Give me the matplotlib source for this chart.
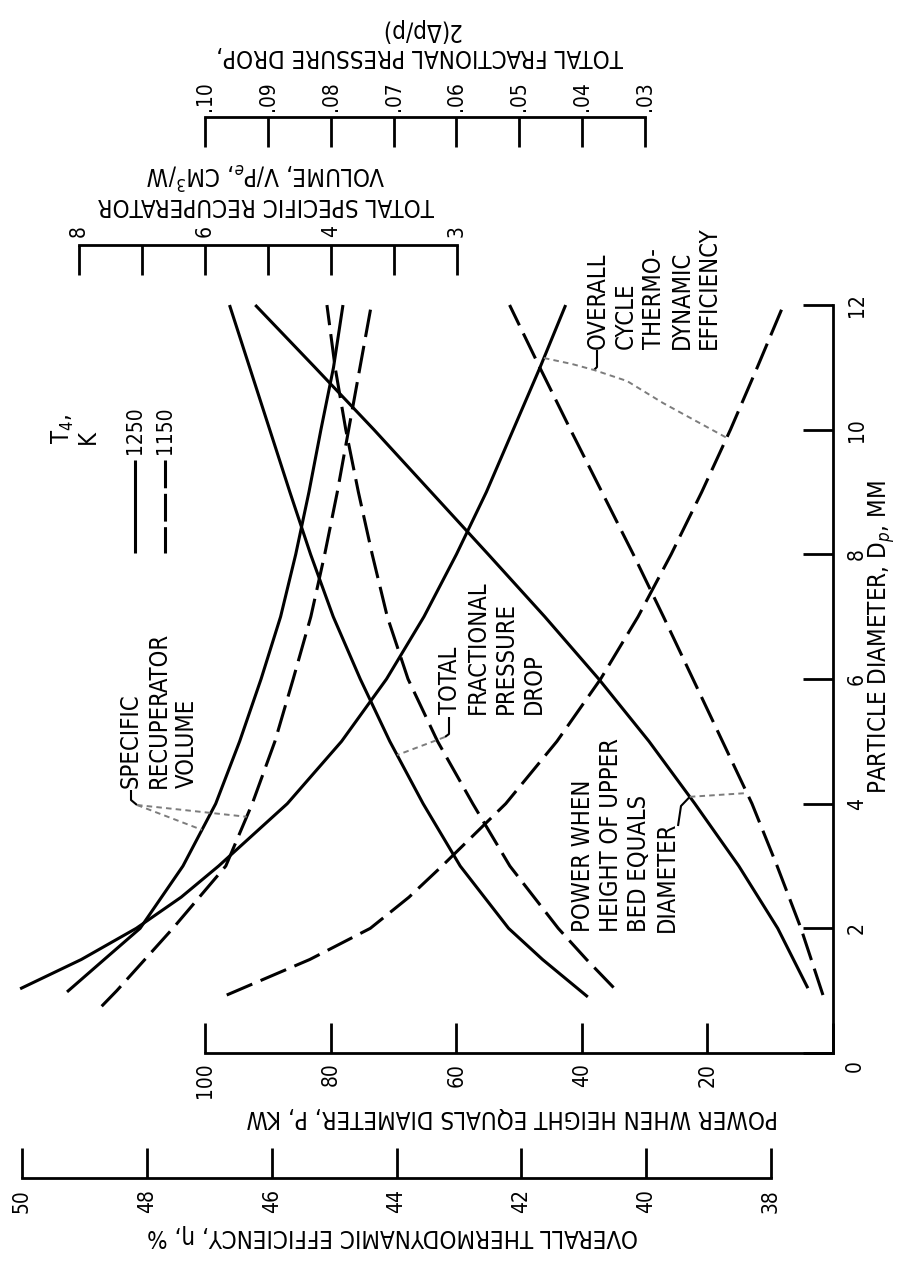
import numpy as np
import matplotlib
matplotlib.use("Agg")
import matplotlib.pyplot as plt
from matplotlib import font_manager
from matplotlib.ticker import FixedLocator, FixedFormatter

# ---------------- data ----------------
# particle diameter, mm  ->  power when height of upper bed equals diameter, kW
power_1250_d = [1.04, 2, 3, 4, 5, 6, 7, 8, 9, 10, 11, 12]
power_1250 = [4.0, 8.8, 15.0, 22.0, 29.3, 37.3, 45.9, 54.9, 64.0, 73.1, 82.5, 92.0]
power_1150_d = [0.93, 2, 3, 4, 5, 6, 7, 8, 9, 10, 11, 12]
power_1150 = [1.6, 5.1, 8.9, 12.9, 17.6, 22.3, 27.0, 31.8, 36.8, 41.8, 46.7, 51.5]

# overall thermodynamic efficiency, %
eff_1250_d = [1.03, 1.5, 2, 2.5, 3, 4, 5, 6, 7, 8, 9, 10, 11, 12]
eff_1250 = [50.03, 49.05, 48.17, 47.45, 46.85, 45.75, 44.88, 44.16, 43.56, 43.04, 42.56, 42.13, 41.70, 41.29]
eff_1150_d = [0.93, 1.5, 2, 2.5, 3, 4, 5, 6, 7, 8, 9, 10, 11, 12]
eff_1150 = [46.72, 45.39, 44.42, 43.80, 43.27, 42.25, 41.43, 40.73, 40.13, 39.60, 39.11, 38.65, 38.22, 37.80]

# total fractional pressure drop 2(dp/p)
dp_1250_d = [0.9, 1.5, 2, 3, 4, 5, 6, 7, 8, 9, 10, 11, 12]
dp_1250 = [0.0391, 0.0463, 0.0517, 0.0594, 0.0653, 0.0706, 0.0753, 0.0796, 0.0832, 0.0865, 0.0897, 0.0929, 0.0961]
dp_1150_d = [1.05, 1.5, 2, 3, 4, 5, 6, 7, 8, 9, 10, 11, 12]
dp_1150 = [0.0350, 0.0393, 0.0438, 0.0515, 0.0574, 0.0630, 0.0677, 0.0710, 0.0734, 0.0756, 0.0776, 0.0793, 0.0806]

# total specific recuperator volume V/Pe, cm^3/W
vol_1250_d = [0.98, 1.5, 2, 3, 4, 5, 6, 7, 8, 9, 10, 11, 12]
vol_1250 = [8.19, 7.60, 7.03, 6.35, 5.83, 5.45, 5.11, 4.80, 4.56, 4.35, 4.16, 3.98, 3.905]
vol_1150_d = [0.75, 1, 2, 3, 4, 5, 6, 7, 8, 9, 10, 11, 12]
vol_1150 = [7.64, 7.40, 6.51, 5.67, 5.25, 4.89, 4.60, 4.32, 4.10, 3.95, 3.86, 3.77, 3.68]

diam_ticks = [0, 2, 4, 6, 8, 10, 12]
diam_tick_labels = ["", "2", "4", "6", "8", "10", "12"]
power_ticks = [0, 20, 40, 60, 80, 100]
power_tick_labels = ["", "20", "40", "60", "80", "100"]
corner_label = "0"
eff_ticks = [38, 40, 42, 44, 46, 48, 50]
dp_ticks = [0.03, 0.04, 0.05, 0.06, 0.07, 0.08, 0.09, 0.10]
dp_tick_labels = [".03", ".04", ".05", ".06", ".07", ".08", ".09", ".10"]
vol_ticks = [3, 3.5, 4, 5, 6, 7, 8]
vol_tick_labels = ["3", "", "4", "", "6", "", "8"]
legend_labels = ["1250", "1150"]

# ---------------- fonts ----------------
names = {f.name for f in font_manager.fontManager.ttflist}
if "Liberation Sans Narrow" in names:
    FAM = ["Liberation Sans Narrow", "DejaVu Sans"]
    plt.rcParams["mathtext.fontset"] = "custom"
    plt.rcParams["mathtext.rm"] = "Liberation Sans Narrow"
    plt.rcParams["mathtext.it"] = "Liberation Sans Narrow:italic"
    plt.rcParams["mathtext.bf"] = "Liberation Sans Narrow:bold"
else:
    FAM = ["DejaVu Sans"]
    plt.rcParams["font.stretch"] = "condensed"
plt.rcParams["font.family"] = FAM
plt.rcParams["lines.scale_dashes"] = False

W, H = 908, 1262
fig = plt.figure(figsize=(W / 100, H / 100), dpi=100)
fig.patch.set_facecolor("white")

Y0, PX_PER_MM = 1053, 62.33   # pixel row of D=0 and scale of diameter axis


def rect(x0, x1, yt, yb):
    return [x0 / W, 1 - yb / H, (x1 - x0) / W, (yb - yt) / H]


def dlim(yt, yb):
    return ((Y0 - yb) / PX_PER_MM, (Y0 - yt) / PX_PER_MM)


LW_AX = 2.0
TL = 21.5
FS_T = 15
FS_L = 17.3
FS_C = 17
LW_C = 2.2
DASH = (20, 6.5)


def clean(ax):
    ax.set_facecolor("none")
    for s in ax.spines.values():
        s.set_visible(False)
        s.set_linewidth(LW_AX)


# power axes (also carries the particle diameter axis on its right side)
axP = fig.add_axes(rect(205, 833, 305, 1053))
clean(axP)
axP.set_xlim(100, 0)
axP.set_ylim(0, 12)
axP.spines["bottom"].set_visible(True)
axP.spines["right"].set_visible(True)
axP.xaxis.set_ticks_position("bottom")
axP.xaxis.set_major_locator(FixedLocator(power_ticks))
axP.xaxis.set_major_formatter(FixedFormatter(power_tick_labels))
axP.tick_params(axis="x", direction="in", length=TL, width=LW_AX, labelsize=FS_T,
                labelrotation=90, pad=7)
axP.yaxis.tick_right()
axP.yaxis.set_major_locator(FixedLocator(diam_ticks))
axP.yaxis.set_major_formatter(FixedFormatter(diam_tick_labels))
axP.tick_params(axis="y", direction="in", length=TL, width=LW_AX, labelsize=FS_T,
                labelrotation=90, pad=10)
for t in axP.yaxis.get_major_ticks():
    t.label2.set_verticalalignment("center")

# efficiency axes
axE = fig.add_axes(rect(22, 771, 305, 1178))
clean(axE)
axE.set_xlim(50, 38)
axE.set_ylim(*dlim(305, 1178))
axE.spines["bottom"].set_visible(True)
axE.set_xticks(eff_ticks)
axE.tick_params(axis="x", direction="in", length=TL, width=LW_AX, labelsize=FS_T,
                labelrotation=90, pad=8)
axE.yaxis.set_visible(False)

# pressure drop axes (top)
axDp = fig.add_axes(rect(205, 645, 117, 1053))
clean(axDp)
axDp.set_xlim(0.10, 0.03)
axDp.set_ylim(*dlim(117, 1053))
axDp.spines["top"].set_visible(True)
axDp.xaxis.set_ticks_position("top")
axDp.xaxis.set_major_locator(FixedLocator(dp_ticks))
axDp.xaxis.set_major_formatter(FixedFormatter(dp_tick_labels))
axDp.tick_params(axis="x", direction="in", length=TL, width=LW_AX, labelsize=FS_T,
                 labelrotation=90, pad=4)
axDp.yaxis.set_visible(False)

# specific volume axes (top, non-uniform graph scale)
VOL_KNOTS = [2, 3, 4, 6, 8, 10]
POS_KNOTS = [-1, 0, 1, 2, 3, 4]


def vfwd(v):
    return np.interp(np.asarray(v, dtype=float), VOL_KNOTS, POS_KNOTS)


def vinv(s):
    return np.interp(np.asarray(s, dtype=float), POS_KNOTS, VOL_KNOTS)


axV = fig.add_axes(rect(79, 457, 245, 1053))
clean(axV)
axV.set_xscale("function", functions=(vfwd, vinv))
axV.set_xlim(8, 3)
axV.set_ylim(*dlim(245, 1053))
axV.spines["top"].set_visible(True)
axV.xaxis.set_ticks_position("top")
axV.xaxis.set_major_locator(FixedLocator(vol_ticks))
axV.xaxis.set_major_formatter(FixedFormatter(vol_tick_labels))
axV.xaxis.set_minor_locator(FixedLocator([]))
axV.tick_params(axis="x", direction="in", length=TL, width=LW_AX, labelsize=FS_T,
                labelrotation=90, pad=6)
axV.yaxis.set_visible(False)

# ---------------- curves ----------------
kw = dict(color="black", lw=LW_C, clip_on=False, solid_capstyle="butt", dash_capstyle="butt")
axP.plot(power_1250, power_1250_d, **kw)
axP.plot(power_1150, power_1150_d, dashes=DASH, **kw)
axE.plot(eff_1250, eff_1250_d, **kw)
axE.plot(eff_1150, eff_1150_d, dashes=DASH, **kw)
axDp.plot(dp_1250, dp_1250_d, **kw)
axDp.plot(dp_1150, dp_1150_d, dashes=DASH, **kw)
axV.plot(vol_1250, vol_1250_d, **kw)
axV.plot(vol_1150, vol_1150_d, dashes=DASH, **kw)

# ---------------- overlay for text and leaders (pixel coordinates) ----------------
ov = fig.add_axes([0, 0, 1, 1], zorder=5)
ov.set_xlim(0, W)
ov.set_ylim(H, 0)
ov.axis("off")
ov.set_facecolor("none")


def on_curve(ax, xs, ds, d):
    v = np.interp(d, ds, xs)
    disp = ax.transData.transform((v, d))
    return ov.transData.inverted().transform(disp)


GRAY = "#7c7c7c"
lkw = dict(color=GRAY, lw=1.4, dashes=(4, 3))
hkw = dict(color="black", lw=1.5, solid_capstyle="butt")

# shared origin label at the corner of power and diameter axes
ov.text(855, 1066, corner_label, rotation=90, ha="center", va="center", fontsize=FS_T)

# axis titles
ov.text(393, 1236, "OVERALL THERMODYNAMIC EFFICIENCY, η, %", rotation=180,
        ha="center", va="center", fontsize=FS_L)
ov.text(512, 1117, "POWER WHEN HEIGHT EQUALS DIAMETER, P, KW", rotation=180,
        ha="center", va="center", fontsize=FS_L)
ov.text(882, 637, "PARTICLE DIAMETER, D$_p$, MM", rotation=90,
        ha="center", va="center", fontsize=FS_L)
ov.text(420, 43, "TOTAL FRACTIONAL PRESSURE DROP,\n2(Δp/p)", rotation=180,
        ha="center", va="center", multialignment="center", fontsize=FS_L, linespacing=1.1)
ov.text(266, 188, "TOTAL SPECIFIC RECUPERATOR\nVOLUME, V/P$_e$, CM$^3$/W", rotation=180,
        ha="center", va="center", multialignment="center", fontsize=FS_L, linespacing=1.1)

# curve labels
ov.text(119, 788, "SPECIFIC\nRECUPERATOR\nVOLUME", rotation=90, ha="left", va="bottom",
        multialignment="left", fontsize=FS_C, linespacing=1.2)
ov.text(438, 714, "TOTAL\nFRACTIONAL\nPRESSURE\nDROP", rotation=90, ha="left", va="bottom",
        multialignment="left", fontsize=FS_C, linespacing=1.2)
ov.text(571, 932, "POWER WHEN\nHEIGHT OF UPPER\nBED EQUALS\nDIAMETER", rotation=90,
        ha="left", va="bottom", multialignment="left", fontsize=FS_C, linespacing=1.2)
ov.text(586, 349, "OVERALL\nCYCLE\nTHERMO-\nDYNAMIC\nEFFICIENCY", rotation=90,
        ha="left", va="bottom", multialignment="left", fontsize=FS_C, linespacing=1.2)

# leaders
ov.plot([131, 131, 137], [790, 800, 805], **hkw)
for ax_, xs_, ds_, dd in ((axV, vol_1250, vol_1250_d, 3.58), (axV, vol_1150, vol_1150_d, 3.79)):
    px, py = on_curve(ax_, xs_, ds_, dd)
    ov.plot([137, px], [805, py], **lkw)

ov.plot([449, 449, 445], [717, 734, 737], **hkw)
px, py = on_curve(axDp, dp_1250, dp_1250_d, 4.78)
ov.plot([445, px], [737, py], **lkw)

p1x, p1y = on_curve(axP, power_1250, power_1250_d, 4.11)
ov.plot([678, 681, p1x], [826, 806, p1y], **hkw)
p2x, p2y = on_curve(axP, power_1150, power_1150_d, 4.17)
ov.plot([p1x, p2x], [p1y, p2y], **lkw)

ov.plot([597, 597, 594], [350, 367, 370], **hkw)
ax1, ay1 = on_curve(axE, eff_1250, eff_1250_d, 11.15)
ax2, ay2 = on_curve(axE, eff_1150, eff_1150_d, 9.87)
ov.plot([ax1, 572, 594, 627, 663, ax2], [ay1, 364, 370, 381, 403, ay2], **lkw)

# legend
ov.text(50, 444, "T$_4$,\nK", rotation=90, ha="left", va="bottom", multialignment="left",
        fontsize=17, linespacing=1.0)
ov.text(135, 454, legend_labels[0], rotation=90, ha="center", va="bottom", fontsize=FS_T)
ov.text(165, 454, legend_labels[1], rotation=90, ha="center", va="bottom", fontsize=FS_T)
ov.plot([135, 135], [460, 553], color="black", lw=LW_C, solid_capstyle="butt")
ov.plot([165, 165], [460, 553], color="black", lw=LW_C, dashes=(20, 4), dash_capstyle="butt")

fig.savefig("out.png", dpi=100, facecolor="white")
